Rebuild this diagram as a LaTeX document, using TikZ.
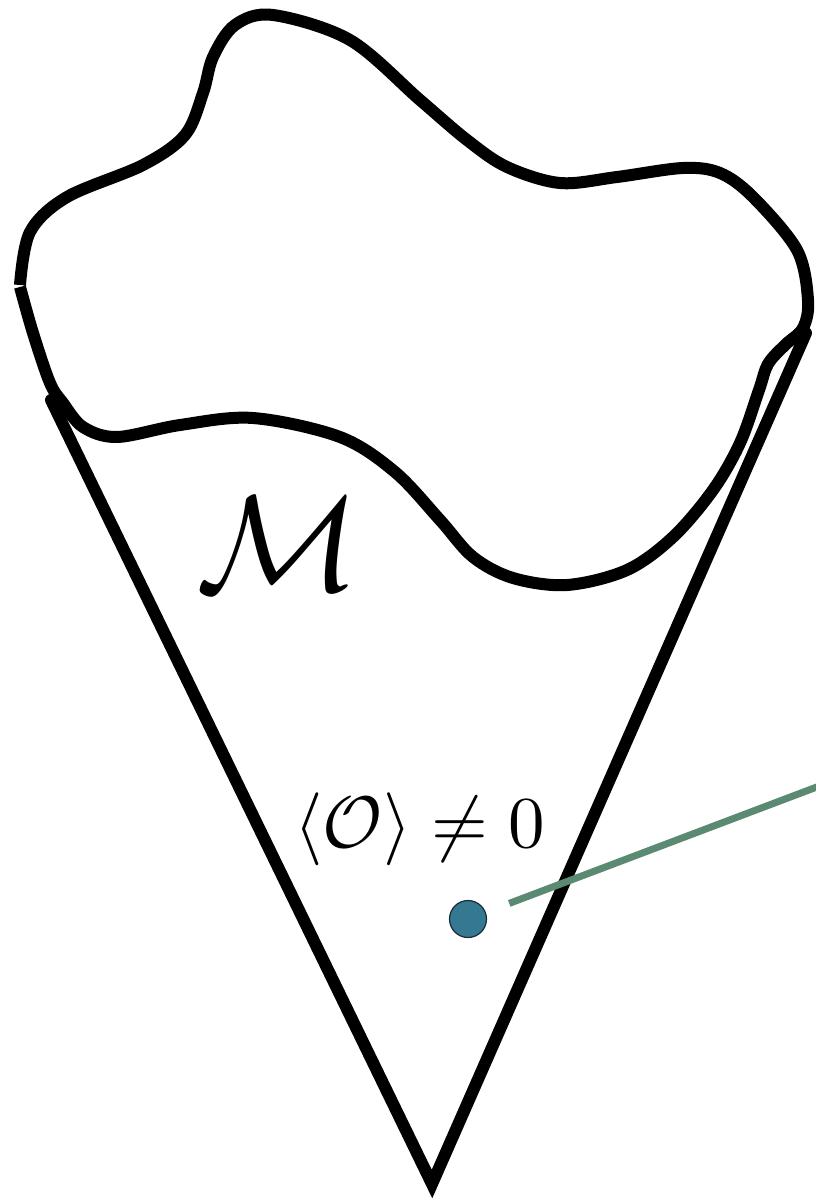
\documentclass[tikz,border=0pt]{standalone}
\definecolor{dotblue}{RGB}{53,120,145}
\definecolor{dotedge}{RGB}{25,45,55}
\definecolor{sage}{RGB}{91,138,114}
\tikzset{
  thick outline/.style={line width=12pt, line join=round, line cap=butt},
  bigtext/.style={inner sep=0pt, scale=7.3},
  hugetext/.style={inner sep=0pt, scale=13.6},
  vacuum/.style={circle, fill=dotblue, draw=dotedge, line width=1.2pt, minimum size=37pt, inner sep=0pt},
  probe/.style={sage, line width=7pt}
}
\begin{document}
\begin{tikzpicture}[x=1pt,y=-1pt]
\useasboundingbox (0,0) rectangle (815,1202);
% blob (manifold boundary)
\draw[thick outline] plot[smooth, tension=0.55] coordinates {
 (20,285) (30,232) (67,197) (143,165) (185,135) (203,93) (213,57)
 (235,25) (273,15) (350,40) (420,100) (467,140) (507,167) (560,183)
 (617,177) (683,168) (720,173) (753,197) (797,250) (808,300) (803,328)
 (785,345) (768,364) (759,390) (740,443) (713,490) (673,537) (627,570)
 (567,585) (513,578) (473,557) (440,520) (395,472) (340,437)
 (253,418) (180,425) (117,437) (83,427) (63,403) (50,383) (33,333) (20,287)};
% cone
\coordinate (cl) at (51,400);
\coordinate (tip) at (432,1184);
\coordinate (cr) at (806,333);
\draw[thick outline, line join=miter, line cap=round] (cl) -- (tip) -- (cr);
% labels
\node[hugetext, anchor=base] (M) at (278,590) {$\mathcal{M}$};
\node[bigtext, anchor=base] (vev) at (420,847) {$\langle\mathcal{O}\rangle\neq 0$};
% operator insertion and probe line
\node[vacuum] (dot) at (468,919) {};
\coordinate (far) at (830,782);
\draw[probe, shorten <=25pt] (dot) -- (far);
\end{tikzpicture}
\end{document}
